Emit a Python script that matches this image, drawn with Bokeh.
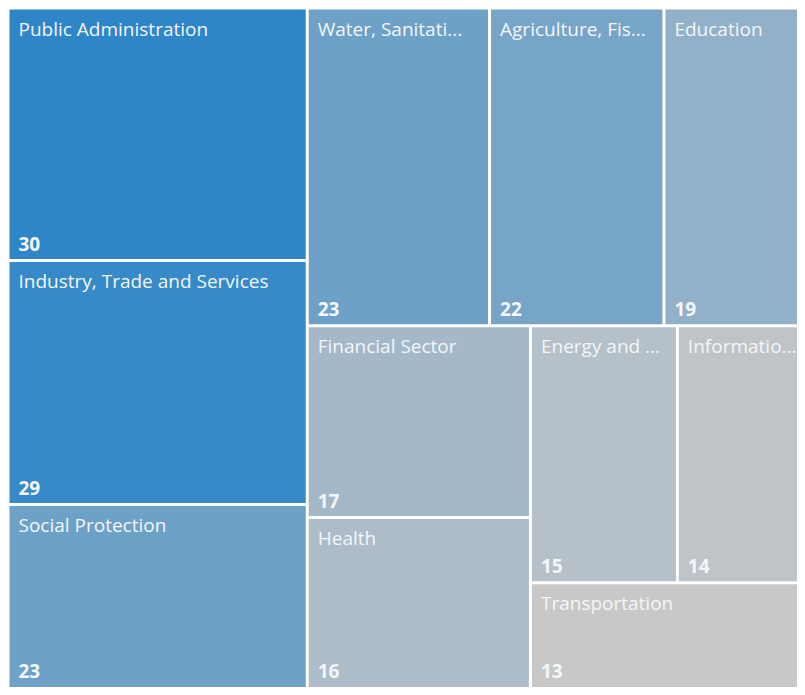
import math
from bokeh.plotting import figure
from bokeh.models import ColumnDataSource, Range1d
from bokeh.core.properties import value
from bokeh.embed import file_html
from bokeh.resources import INLINE

# ---- data ----
names = ["Public Administration", "Industry, Trade and Services", "Social Protection",
         "Water, Sanitation and Waste Management", "Agriculture, Fishing and Forestry",
         "Education", "Financial Sector", "Health", "Energy and Extractives",
         "Information and Communications", "Transportation"]
labels = ["Public Administration", "Industry, Trade and Services", "Social Protection",
          "Water, Sanitati...", "Agriculture, Fis...", "Education", "Financial Sector",
          "Health", "Energy and ...", "Informatio...", "Transportation"]
values = [30, 29, 23, 23, 22, 19, 17, 16, 15, 14, 13]

# ---- layout: d3-style squarified treemap (golden ratio) ----
PHI = (1 + math.sqrt(5)) / 2
AREA_X0, AREA_Y0 = 7.5, 7.5
AREA_W, AREA_H = 806.5, 690.0
GAP = 3.0
W, H = 797, 687


def squarify(vals, x0, y0, x1, y1, ratio=PHI):
    rects = [None] * len(vals)
    n = len(vals)
    i0 = i1 = 0
    total = float(sum(vals))
    while i0 < n:
        dx, dy = x1 - x0, y1 - y0
        s = vals[i1]; i1 += 1
        mn = mx = s
        alpha = max(dy / dx, dx / dy) / (total * ratio)
        beta = s * s * alpha
        min_ratio = max(mx / beta, beta / mn)
        while i1 < n:
            v = vals[i1]
            s2 = s + v
            mn2, mx2 = min(mn, v), max(mx, v)
            beta = s2 * s2 * alpha
            new_ratio = max(mx2 / beta, beta / mn2)
            if new_ratio > min_ratio:
                break
            s, mn, mx, min_ratio = s2, mn2, mx2, new_ratio
            i1 += 1
        row = list(range(i0, i1))
        if dx < dy:  # dice: horizontal row at top
            h = dy * s / total
            xx = x0
            for k in row:
                w = dx * vals[k] / s
                rects[k] = (xx, y0, xx + w, y0 + h)
                xx += w
            y0 += h
        else:  # slice: vertical column at left
            w = dx * s / total
            yy = y0
            for k in row:
                h = dy * vals[k] / s
                rects[k] = (x0, yy, x0 + w, yy + h)
                yy += h
            x0 += w
        total -= s
        i0 = i1
    return rects


rects = squarify(values, AREA_X0, AREA_Y0, AREA_X0 + AREA_W, AREA_Y0 + AREA_H)

# colour gradient: min value -> grey, max value -> blue
lo_c = (200, 200, 200)
hi_c = (46, 134, 200)
vmin, vmax = min(values), max(values)


def col(v):
    t = (v - vmin) / (vmax - vmin)
    c = [round(a + (b - a) * t) for a, b in zip(lo_c, hi_c)]
    return "#%02x%02x%02x" % tuple(c)


SHIFT = 7.5  # compensates the baseline offset seen in the render
src = ColumnDataSource(dict(
    left=[r[0] + GAP / 2 for r in rects],
    right=[r[2] - GAP / 2 for r in rects],
    top=[r[1] + GAP / 2 for r in rects],
    bottom=[r[3] - GAP / 2 for r in rects],
    color=[col(v) for v in values],
    label=labels,
    val=[str(v) for v in values],
    lx=[r[0] + GAP / 2 + 9.0 for r in rects],
    ty=[r[1] + GAP / 2 + 26.5 - SHIFT for r in rects],
    by=[min(r[3] - GAP / 2 - 7.5, H - 9) - SHIFT for r in rects],
))

p = figure(width=W, height=H, x_range=Range1d(0, W), y_range=Range1d(H, 0),
           output_backend="svg", toolbar_location=None, min_border=0)
p.axis.visible = False
p.grid.visible = False
p.outline_line_color = None
p.background_fill_color = "white"
p.border_fill_color = "white"

p.quad(left="left", right="right", top="top", bottom="bottom", source=src,
       fill_color="color", line_color=None)

p.text(x="lx", y="ty", text="label", source=src, text_color="#f4f6f8",
       text_font=value("Open Sans"), text_font_size="19px",
       text_baseline="alphabetic", text_align="left")
p.text(x="lx", y="by", text="val", source=src, text_color="#f4f6f8",
       text_font=value("Open Sans"), text_font_size="19px", text_font_style="bold",
       text_baseline="alphabetic", text_align="left")

open("out.html", "w").write(file_html(p, INLINE))
